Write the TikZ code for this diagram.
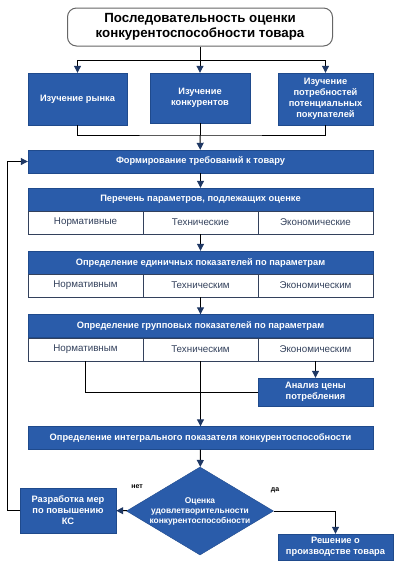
\documentclass[tikz,border=0pt]{standalone}
\usepackage{fontspec}
\setmainfont{Liberation Sans}
\usetikzlibrary{arrows.meta,shapes.geometric}
\definecolor{boxblue}{HTML}{2A5CAA}
\definecolor{edgeblue}{HTML}{1F4A8C}
\definecolor{arrowblue}{HTML}{1F3864}
\definecolor{celltext}{HTML}{33415C}
\begin{document}
\begin{tikzpicture}[x=1pt,y=-1pt,
    titlebox/.style={draw=black!60,line width=1pt,rounded corners=9pt,fill=white,
      minimum width=265pt,minimum height=38pt,align=center,font=\fontsize{13.3}{15}\selectfont\bfseries},
    bluebox/.style={draw=edgeblue,fill=boxblue,text=white,align=center,inner sep=1pt,
      font=\fontsize{9.3}{11}\selectfont\bfseries},
    cell/.style={draw=celltext,fill=white,text=celltext,minimum width=115pt,minimum height=23pt,
      inner sep=0pt,font=\fontsize{9.8}{11}\selectfont},
    wide/.style={bluebox,minimum width=345pt,minimum height=23pt},
    arr/.style={-{Triangle[width=7pt,length=7pt,color=arrowblue]}},
    lbl/.style={font=\fontsize{7}{8}\selectfont\bfseries}]
  \useasboundingbox (0,0) rectangle (401,568);
  % Title and first row
  \node[titlebox] (title) at (200,27) {Последовательность оценки\\конкурентоспособности товара};
  \node[bluebox,minimum width=99pt,minimum height=52pt] (rynok) at (77.5,99) {Изучение рынка};
  \node[bluebox,minimum width=100pt,minimum height=50pt] (konk) at (200,98) {Изучение\\конкурентов};
  \node[bluebox,minimum width=95pt,minimum height=52pt] (potreb) at (325.5,99) {Изучение\\потребностей\\потенциальных\\покупателей};
  \coordinate (split) at (200,60);
  \coordinate (merge) at (200,135);
  % Main column
  \node[wide] (form) at (200.5,161.5) {Формирование требований к товару};
  \node[wide] (perech) at (200.5,199.5) {Перечень параметров, подлежащих оценке};
  \node[cell] (p1) at (85.5,222.5) {Нормативные};
  \node[cell] (p2) at (200.5,222.5) {Технические};
  \node[cell] (p3) at (315.5,222.5) {Экономические};
  \node[wide] (edin) at (200.5,262.5) {Определение единичных показателей по параметрам};
  \node[cell] (e1) at (85.5,285.5) {Нормативным};
  \node[cell] (e2) at (200.5,285.5) {Техническим};
  \node[cell] (e3) at (315.5,285.5) {Экономическим};
  \node[wide] (grupp) at (200.5,326) {Определение групповых показателей по параметрам};
  \node[cell] (g1) at (85.5,349.5) {Нормативным};
  \node[cell] (g2) at (200.5,349.5) {Техническим};
  \node[cell] (g3) at (315.5,349.5) {Экономическим};
  \node[bluebox,minimum width=115pt,minimum height=28pt] (analiz) at (315.5,392) {Анализ цены\\потребления};
  \node[wide] (integ) at (200.5,438) {Определение интегрального показателя конкурентоспособности};
  % Decision
  \node[bluebox,shape=diamond,aspect=1.67,inner sep=0pt,minimum width=147pt,minimum height=88pt,
    font=\fontsize{8.4}{10}\selectfont\bfseries] (ocenka) at (200,511)
    {Оценка\\удовлетворительности\\конкурентоспособности};
  \node[bluebox,minimum width=96pt,minimum height=45pt] (razrab) at (68,510.5) {Разработка мер\\по повышению\\КС};
  \node[bluebox,minimum width=115pt,minimum height=26pt] (reshenie) at (335.5,547) {Решение о\\производстве товара};
  \node[lbl] (net) at (137,487) {нет};
  \node[lbl] (da) at (275,490) {да};
  % Connectors
  \draw[line width=1pt] (title) -- (split);
  \draw[line width=1pt,arr] (split) -| (rynok);
  \draw[line width=1pt,arr] (split) -| (potreb);
  \draw[line width=1pt,arr] (split) -- (konk);
  \draw[line width=1pt] (rynok) |- (merge) -| (potreb);
  \draw[line width=1pt] (konk) -- (merge);
  \draw[line width=1pt,arr] (merge) -- (form);
  \draw[line width=1pt,arr] (form) -- (perech);
  \draw[line width=1pt,arr] (p2) -- (edin);
  \draw[line width=1pt,arr] (e2) -- (grupp);
  \draw[line width=1pt] (g1) |- (analiz);
  \draw[line width=1pt,arr] (g2) -- (integ);
  \draw[line width=1pt,arr] (g3) -- (analiz);
  \draw[line width=1pt,arr] (integ) -- (ocenka);
  \draw[line width=1pt,arr] (ocenka) -- (razrab);
  \draw[line width=1pt,arr] (ocenka) -| (reshenie);
  \draw[line width=1pt,arr] (razrab.west) -- ++(-12,0) |- (form.west);
\end{tikzpicture}
\end{document}
